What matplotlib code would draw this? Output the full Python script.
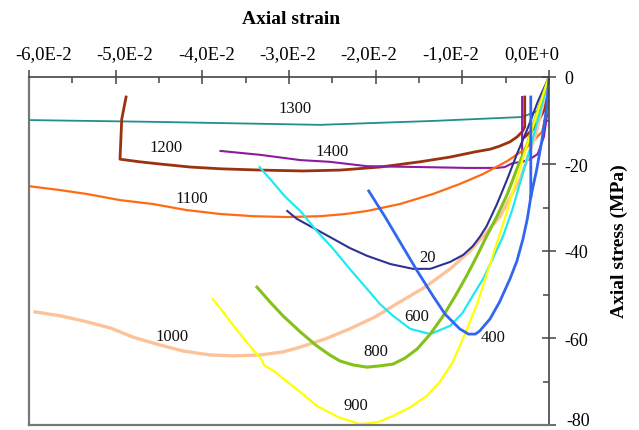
import numpy as np
import matplotlib
matplotlib.use("Agg")
import matplotlib.pyplot as plt

nan = np.nan

# axial strain / axial stress (MPa), one pair per temperature
# (nan splits a curve into two pieces)
strain_20 = [-0.0302, -0.0291, -0.0270, -0.0249, -0.0230, -0.0210, -0.0183, -0.0157, -0.0137, -0.0114,
             -0.0099, -0.0088, -0.0080, -0.0072, -0.0060, -0.0048, -0.0037, -0.0025, -0.0013, 0.0]
stress_20 = [-30.8, -32.6, -34.9, -37.2, -39.3, -41.1, -43.0, -44.1, -44.1, -42.5,
             -40.9, -38.9, -36.8, -34.3, -29.2, -23.4, -17.7, -12.0, -5.7, 0.0]

strain_400 = [-0.0208, -0.0189, -0.0172, -0.0152, -0.0134, -0.0120, -0.0111, -0.0103, -0.0093, -0.0085,
              -0.0080, -0.0068, -0.0057, -0.0045, -0.0037, -0.0030, -0.0025, -0.0021, -0.0021,
              nan, -0.0021, -0.0014, -0.0008, -0.0003, 0.0]
stress_400 = [-26.2, -32.2, -37.9, -44.6, -50.3, -54.5, -56.3, -57.9, -59.1, -59.1,
              -58.4, -55.6, -51.7, -46.4, -42.3, -37.2, -32.6, -27.6, -4.6,
              nan, -27.6, -21.1, -14.3, -7.4, 0.0]

strain_600 = [-0.0334, -0.0319, -0.0304, -0.0287, -0.0268, -0.0249, -0.0230, -0.0210, -0.0195, -0.0180,
              -0.0160, -0.0137, -0.0114, -0.0100, -0.0088, -0.0076, -0.0065, -0.0053, -0.0042, -0.0033,
              -0.0022, -0.0010, 0.0]
stress_600 = [-20.7, -24.1, -27.6, -30.8, -35.4, -39.5, -44.1, -48.7, -52.2, -54.9,
              -57.9, -59.1, -57.2, -54.3, -50.3, -46.4, -41.8, -36.6, -30.3, -24.1,
              -16.6, -7.8, 0.0]

strain_800 = [-0.0337, -0.0322, -0.0307, -0.0287, -0.0268, -0.0253, -0.0241, -0.0226, -0.0210, -0.0195,
              -0.0180, -0.0166, -0.0152, -0.0137, -0.0122, -0.0108, -0.0095, -0.0083, -0.0072, -0.0060,
              -0.0048, -0.0037, -0.0025, -0.0013, 0.0]
stress_800 = [-48.3, -51.7, -54.9, -58.6, -61.8, -63.9, -65.3, -66.2, -66.7, -66.4,
              -66.0, -64.6, -62.5, -59.1, -54.9, -50.3, -45.7, -41.1, -36.6, -32.0,
              -26.9, -21.1, -15.4, -7.8, 0.0]

strain_900 = [-0.0388, -0.0376, -0.0364, -0.0347, -0.0331, -0.0329, -0.0316, -0.0302, -0.0287, -0.0268,
              -0.0243, -0.0218, -0.0197, -0.0180, -0.0160, -0.0141, -0.0126, -0.0111, -0.0097, -0.0083,
              -0.0068, -0.0053, -0.0039, -0.0025, -0.0014, 0.0]
stress_900 = [-51.0, -54.0, -57.2, -61.4, -65.1, -66.2, -67.8, -70.1, -72.4, -75.6,
              -78.2, -79.8, -79.3, -77.9, -75.9, -73.3, -70.1, -65.5, -59.1, -52.2,
              -43.0, -33.8, -24.6, -15.4, -8.5, 0.0]

strain_1000 = [-0.0593, -0.0564, -0.0537, -0.0506, -0.0480, -0.0449, -0.0422, -0.0391, -0.0364, -0.0333,
               -0.0307, -0.0287, -0.0258, -0.0230, -0.0201, -0.0172, -0.0143, -0.0114, -0.0091, -0.0076,
               -0.0057, -0.0033, -0.0015, 0.0]
stress_1000 = [-54.0, -54.9, -56.1, -57.7, -59.8, -61.6, -63.0, -63.9, -64.1, -63.9,
               -63.2, -62.1, -60.2, -57.9, -55.2, -51.7, -48.3, -44.1, -40.0, -36.6,
               -32.2, -23.4, -13.0, 0.0]

strain_1100 = [-0.0600, -0.0564, -0.0533, -0.0495, -0.0457, -0.0418, -0.0379, -0.0341, -0.0302, -0.0264,
               -0.0235, -0.0210, -0.0172, -0.0134, -0.0103, -0.0076, -0.0048, -0.0028, -0.0008, -0.0002, 0.0]
stress_1100 = [-25.1, -26.0, -26.9, -28.3, -29.2, -30.6, -31.5, -32.0, -32.2, -32.0,
               -31.5, -30.8, -29.2, -26.9, -24.6, -22.3, -19.3, -16.6, -12.6, -7.6, 0.0]

strain_1200 = [-0.0488, -0.0493, -0.0494, -0.0495, -0.0472, -0.0449, -0.0414, -0.0379, -0.0333, -0.0284,
               -0.0241, -0.0195, -0.0149, -0.0114, -0.0085, -0.0068, -0.0057, -0.0045, -0.0037, -0.0031,
               -0.0028, -0.0028, nan, -0.0028, -0.0016, -0.0005, 0.0]
stress_1200 = [-4.6, -9.7, -14.3, -18.9, -19.5, -20.0, -20.7, -21.1, -21.4, -21.6,
               -21.4, -20.7, -19.5, -18.4, -17.2, -16.6, -15.9, -14.9, -13.8, -12.6,
               -11.5, -4.6, nan, -13.8, -11.5, -7.4, 0.0]

strain_1300 = [-0.0600, -0.0460, -0.0264, -0.0134, -0.0031, -0.0008, -0.0001, 0.0]
stress_1300 = [-9.9, -10.3, -11.0, -10.1, -9.2, -7.4, -2.3, 0.0]

strain_1400 = [-0.0379, -0.0333, -0.0287, -0.0253, -0.0210, -0.0149, -0.0095, -0.0060, -0.0051, -0.0042,
               -0.0031, -0.0031, nan, -0.0031, -0.0022, -0.0013, -0.0006, -0.0002, 0.0]
stress_1400 = [-17.0, -17.9, -19.1, -19.5, -20.5, -20.7, -20.9, -20.9, -20.7, -19.8,
               -19.5, -4.6, nan, -19.5, -18.9, -17.7, -13.8, -8.5, 0.0]

labels = ["20", "400", "600", "800", "900", "1000", "1100", "1200", "1300", "1400"]
label_x = [-0.0140, -0.0065, -0.0153, -0.0200, -0.0223, -0.0435, -0.0412, -0.0442, -0.0293, -0.0250]
label_y = [-41.4, -59.7, -54.9, -63.0, -75.4, -59.5, -27.8, -16.1, -7.1, -17.0]

x_ticks = [-0.06, -0.05, -0.04, -0.03, -0.02, -0.01, 0.0]
x_ticklabels = ["-6,0E-2", "-5,0E-2", "-4,0E-2", "-3,0E-2", "-2,0E-2", "-1,0E-2", "0,0E+0"]
y_ticks = [0, -20, -40, -60, -80]
y_ticklabels = ["0", "-20", "-40", "-60", "-80"]

plt.rcParams['font.family'] = ['Liberation Serif', 'DejaVu Serif']

fig = plt.figure(figsize=(6.39, 4.31), dpi=100)
ax = fig.add_axes([29/639, 1-426/431, 520/639, 348/431])

ax.plot(strain_1300, stress_1300, color='#1f8f8f', lw=1.3)
ax.plot(strain_1200, stress_1200, color='#9a3210', lw=2.0)
ax.plot(strain_1400, stress_1400, color='#8e1a9e', lw=1.5)
ax.plot(strain_1100, stress_1100, color='#ff6a13', lw=1.6)
ax.plot(strain_1000, stress_1000, color='#fcc39b', lw=2.4)
ax.plot(strain_20, stress_20, color='#2e3192', lw=1.5)
ax.plot(strain_600, stress_600, color='#22e8f2', lw=1.6)
ax.plot(strain_800, stress_800, color='#84c21a', lw=2.2)
ax.plot(strain_900, stress_900, color='#ffff00', lw=1.6)
ax.plot(strain_400, stress_400, color='#3266f0', lw=2.0)

for t, lx, ly in zip(labels, label_x, label_y):
    ax.text(lx, ly, t, ha='center', va='center', fontsize=12, color='#111111')

ax.set_xlim(-0.06, 0.0)
ax.set_ylim(-80, 0)

ax.xaxis.tick_top()
ax.yaxis.tick_right()
ax.set_xticks(x_ticks)
ax.set_xticklabels([])
ax.set_xticks(np.arange(-0.055, 0, 0.01), minor=True)
ax.set_yticks(y_ticks)
ax.set_yticklabels(y_ticklabels[:-1] + [""])
ax.set_yticks([-10, -30, -50, -70], minor=True)

ax.tick_params(which='major', direction='inout', length=10, width=1.1, color='#444444', pad=7)
ax.tick_params(axis='y', which='major', labelsize=13, pad=6)
ax.tick_params(which='minor', direction='in', length=4.5, width=1.1, color='#444444')

# the strain labels sit a little tighter than the ticks, as in the source
for t, fx in zip(x_ticklabels, np.linspace(0.028, 0.967, len(x_ticklabels))):
    ax.text(fx, 1.0675, t, transform=ax.transAxes, ha='center', va='center', fontsize=13.5)
fig.text(566/639, 1/431, y_ticklabels[-1], ha='left', va='bottom', fontsize=13)

for side in ['top', 'right']:
    ax.spines[side].set_color('#444444')
    ax.spines[side].set_linewidth(1.2)
for side in ['left', 'bottom']:
    ax.spines[side].set_color('#777777')
    ax.spines[side].set_linewidth(1.6)

fig.text(291/639, 1-20/431, "Axial strain", ha='center', va='center',
         fontsize=14, fontweight='bold')
fig.text(619/639, 1-241/431, "Axial stress (MPa)", ha='center', va='center',
         rotation=90, fontsize=14, fontweight='bold')

fig.savefig("out.png", dpi=100)
